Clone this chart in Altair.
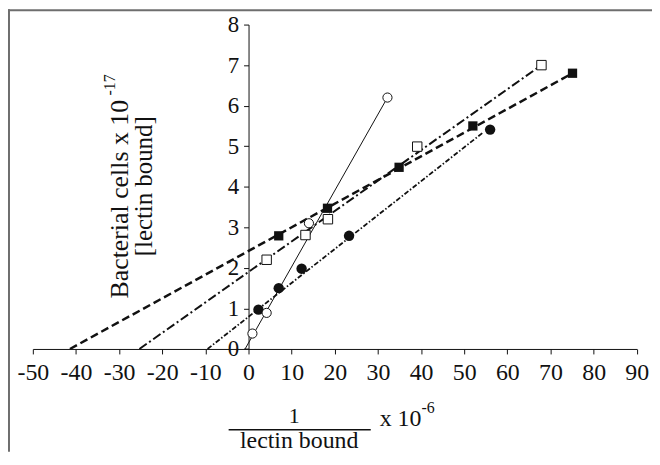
import altair as alt

# ---- data ----
oc_x = [0.9, 4.2, 14.0, 32.2]            # open circles
oc_y = [0.38, 0.89, 3.1, 6.2]
fs_x = [7.0, 18.3, 34.9, 52.0, 75.1]     # filled squares
fs_y = [2.79, 3.47, 4.48, 5.5, 6.8]
os_x = [4.2, 13.2, 18.4, 39.1, 67.9]     # open squares
os_y = [2.2, 2.81, 3.2, 4.99, 7.0]
fc_x = [2.3, 7.0, 12.3, 23.3, 56.0]      # filled circles
fc_y = [0.97, 1.5, 1.98, 2.79, 5.41]

# fitted lines: from x-intercept to the end of each series
oc_fit_x = [-0.8, 32.2]
oc_fit_y = [0.0, 6.2]
fs_fit_x = [-41.4, 75.1]
fs_fit_y = [0.0, 6.8]
os_fit_x = [-25.3, 67.9]
os_fit_y = [0.0, 7.0]
fc_fit_x = [-9.5, 54.5]
fc_fit_y = [0.0, 5.35]

x_ticks = list(range(-50, 91, 10))
y_ticks = list(range(0, 9))

# ---- layout ----
W = 607.7
H = 326.4
PL, PT, PR, PB = 25, 15.3, 15.3, 103.3
X0 = 8 + PL   # page x of plot origin
Y0 = 8 + PT   # page y of plot origin
FONT = "Liberation Serif"
INK = "#111111"


def rows(xs, ys):
    return alt.Data(values=[{"x": a, "y": b} for a, b in zip(xs, ys)])


def X():
    return alt.X("x:Q",
                 scale=alt.Scale(domain=[-50, 90], nice=False, zero=False),
                 axis=alt.Axis(values=x_ticks, title=None, grid=False,
                               labelExpr="'' + datum.value", labelPadding=7,
                               tickSize=5, labelFontSize=24, labelFont=FONT,
                               labelColor=INK, domainColor=INK, tickColor=INK,
                               labelFlush=False, labelOverlap=False))


def Y():
    return alt.Y("y:Q",
                 scale=alt.Scale(domain=[0, 8], nice=False, zero=False),
                 axis=alt.Axis(values=y_ticks, title=None, grid=False,
                               offset=-W * 50 / 140, labelPadding=5,
                               tickSize=5, labelFontSize=23, labelFont=FONT,
                               labelColor=INK, domainColor=INK, tickColor=INK,
                               labelOverlap=False))


def fit(xs, ys, width, dash=None):
    kw = dict(color=INK, strokeWidth=width, clip=False)
    if dash:
        kw["strokeDash"] = dash
    return alt.Chart(rows(xs, ys)).mark_line(**kw).encode(x=X(), y=Y())


def pts(xs, ys, shape, filled, size):
    if filled:
        m = alt.Chart(rows(xs, ys)).mark_point(shape=shape, filled=True, fill=INK,
                                              strokeWidth=0, size=size, opacity=1)
    else:
        m = alt.Chart(rows(xs, ys)).mark_point(shape=shape, filled=True, fill="white",
                                              stroke=INK, strokeWidth=1, size=size,
                                              opacity=1, fillOpacity=1)
    return m.encode(x=X(), y=Y())


def label(text, page_x, page_y, size, angle=0, align="center"):
    return alt.Chart(alt.Data(values=[{"t": text}])).mark_text(
        font=FONT, fontSize=size, angle=angle, align=align,
        baseline="alphabetic", color=INK
    ).encode(text="t:N", x=alt.value(page_x - X0), y=alt.value(page_y - Y0))


one = alt.Data(values=[{"k": 1}])
frame_left = alt.Chart(one).mark_rule(color="#6e6e6e", strokeWidth=2).encode(
    x=alt.value(9 - X0), y=alt.value(-PT), y2=alt.value(H + PB))
frame_top = alt.Chart(one).mark_rule(color="#6e6e6e", strokeWidth=2).encode(
    y=alt.value(9 - Y0), x=alt.value(-PL), x2=alt.value(W + PR))
frac_bar = alt.Chart(one).mark_rule(color=INK, strokeWidth=1.5).encode(
    y=alt.value(431 - Y0), x=alt.value(230 - X0), x2=alt.value(373 - X0))

layers = [
    frame_left, frame_top,
    fit(fs_fit_x, fs_fit_y, 2.5, [8, 4]),
    fit(os_fit_x, os_fit_y, 2.0, [9, 3, 2, 3]),
    fit(fc_fit_x, fc_fit_y, 1.8, [5, 2, 1.5, 2]),
    fit(oc_fit_x, oc_fit_y, 1.0),
    pts(fs_x, fs_y, "square", True, 87),
    pts(os_x, os_y, "square", False, 90),
    pts(fc_x, fc_y, "circle", True, 110),
    pts(oc_x, oc_y, "circle", False, 85),
    # y title
    label("Bacterial cells x 10", 129, 199, 26, angle=270),
    label("-17", 116, 84, 16, angle=270),
    label("[lectin bound]", 153, 186, 25, angle=270),
    # x title
    label("1", 296, 424, 22),
    frac_bar,
    label("lectin bound", 301, 449, 24),
    label("x 10", 382, 427, 24, align="left"),
    label("-6", 424, 414, 16, align="left"),
]

chart = alt.layer(*layers).properties(
    width=W, height=H,
    autosize=alt.AutoSizeParams(type="none"),
    padding={"left": PL, "top": PT, "right": PR, "bottom": PB},
    background="white",
).configure_view(stroke=None)

chart.save("out.html", embed_options={"renderer": "svg", "actions": False})
